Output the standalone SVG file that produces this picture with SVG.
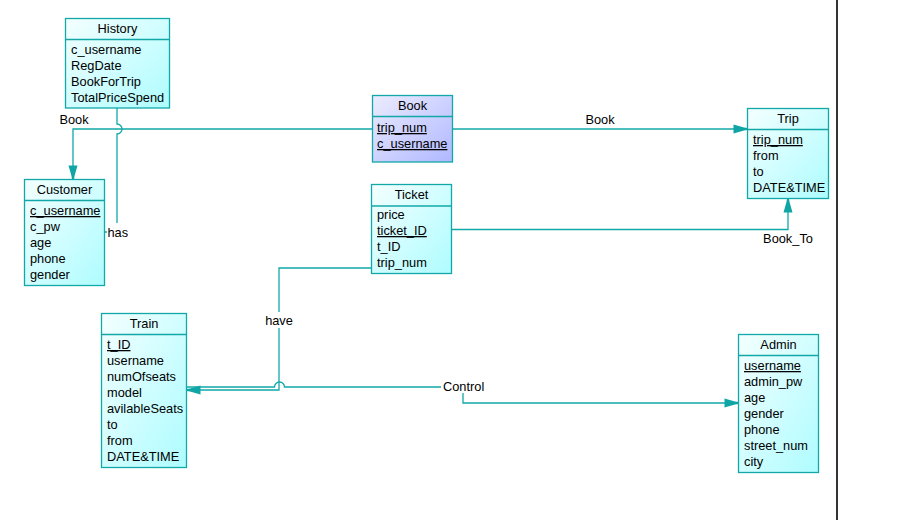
<svg xmlns="http://www.w3.org/2000/svg" width="906" height="520" viewBox="0 0 906 520">
<defs>
<linearGradient id="gc" x1="0" y1="0" x2="1" y2="1"><stop offset="0" stop-color="#f4ffff"/><stop offset="1" stop-color="#aefcff"/></linearGradient>
<linearGradient id="gb" x1="0" y1="0" x2="1" y2="1"><stop offset="0" stop-color="#ececff"/><stop offset="1" stop-color="#b0b8ff"/></linearGradient>
<marker id="arr" markerUnits="userSpaceOnUse" viewBox="-15 -6 16 12" refX="0" refY="0" markerWidth="16" markerHeight="12" orient="auto">
<path d="M-14,-4.5 L-3.5,-1.5 L0,-1 L0,1 L-3.5,1.5 L-14,4.5 Z" fill="#0fa5a5"/>
</marker>
<style>
.box{fill:url(#gc);stroke:#12a8a8;stroke-width:1.3}
.bbox{fill:url(#gb);stroke:#12a8a8;stroke-width:1.3}
.div{stroke:#12a8a8;stroke-width:1.3}
text{font-family:"Liberation Sans",Arial,sans-serif;font-size:12.8px;fill:#000}
.t{text-anchor:middle}
.pk{text-decoration:underline}
.c{fill:none;stroke:#12a8a8;stroke-width:1.3}
.lbl{text-anchor:middle}
</style>
</defs>
<rect width="906" height="520" fill="#fff"/>
<line x1="837" y1="0" x2="837" y2="520" stroke="#000" stroke-width="1.6"/>

<g id="connectors">
<path class="c" d="M372.5,129 H73 V179.5" marker-end="url(#arr)"/>
<path class="c" d="M117,108 V124 A5,5 0 0 1 117,134 V232 H104.5"/>
<path class="c" d="M452.5,129 H747.5" marker-end="url(#arr)"/>
<path class="c" d="M451.5,229.5 H788 V198.5" marker-end="url(#arr)"/>
<path class="c" d="M371.5,268 H279 V390 H186.5" marker-end="url(#arr)"/>
<path class="c" d="M186.5,387 H274.5 A5,5 0 0 1 284.5,387 H441"/>
<path class="c" d="M463,393 V403 H738.5" marker-end="url(#arr)"/>
<text x="74" y="124" class="lbl">Book</text>
<rect x="107" y="223" width="22" height="16" fill="#fff"/>
<text x="107.5" y="237">has</text>
<text x="600" y="124" class="lbl">Book</text>
<text x="788" y="243" class="lbl">Book_To</text>
<rect x="264" y="312" width="30" height="16" fill="#fff"/>
<text x="279" y="325" class="lbl">have</text>
<text x="443" y="391">Control</text>
</g>

<g id="History">
<rect class="box" x="65.5" y="18.5" width="104" height="89.5"/>
<line class="div" x1="65.5" y1="39.5" x2="169.5" y2="39.5"/>
<text class="t" x="117.5" y="33">History</text>
<text x="71" y="54">c_username</text>
<text x="71" y="70">RegDate</text>
<text x="71" y="86">BookForTrip</text>
<text x="71" y="102">TotalPriceSpend</text>
</g>

<g id="Customer">
<rect class="box" x="24.5" y="179.5" width="80" height="106"/>
<line class="div" x1="24.5" y1="200.5" x2="104.5" y2="200.5"/>
<text class="t" x="64.5" y="194">Customer</text>
<text x="30" y="215" class="pk">c_username</text>
<text x="30" y="231">c_pw</text>
<text x="30" y="247">age</text>
<text x="30" y="263">phone</text>
<text x="30" y="279">gender</text>
</g>

<g id="Book">
<rect class="bbox" x="372.5" y="95.5" width="80" height="66.5"/>
<line class="div" x1="372.5" y1="116.5" x2="452.5" y2="116.5"/>
<text class="t" x="412.5" y="110">Book</text>
<text x="377" y="132" class="pk">trip_num</text>
<text x="377" y="148" class="pk">c_username</text>
</g>

<g id="Ticket">
<rect class="box" x="371.5" y="184.5" width="80" height="89"/>
<line class="div" x1="371.5" y1="206" x2="451.5" y2="206"/>
<text class="t" x="411.5" y="199">Ticket</text>
<text x="377" y="219">price</text>
<text x="377" y="235" class="pk">ticket_ID</text>
<text x="377" y="251">t_ID</text>
<text x="377" y="267">trip_num</text>
</g>

<g id="Trip">
<rect class="box" x="747.5" y="108.5" width="81" height="90"/>
<line class="div" x1="747.5" y1="129.5" x2="828.5" y2="129.5"/>
<text class="t" x="788" y="123">Trip</text>
<text x="753" y="144" class="pk">trip_num</text>
<text x="753" y="160">from</text>
<text x="753" y="176">to</text>
<text x="753" y="192">DATE&amp;TIME</text>
</g>

<g id="Train">
<rect class="box" x="101.5" y="313.5" width="85" height="154"/>
<line class="div" x1="101.5" y1="334.5" x2="186.5" y2="334.5"/>
<text class="t" x="144" y="328">Train</text>
<text x="107" y="349" class="pk">t_ID</text>
<text x="107" y="365">username</text>
<text x="107" y="381">numOfseats</text>
<text x="107" y="397">model</text>
<text x="107" y="413">avilableSeats</text>
<text x="107" y="429">to</text>
<text x="107" y="445">from</text>
<text x="107" y="461">DATE&amp;TIME</text>
</g>

<g id="Admin">
<rect class="box" x="738.5" y="334.5" width="80" height="138"/>
<line class="div" x1="738.5" y1="355.5" x2="818.5" y2="355.5"/>
<text class="t" x="778.5" y="349">Admin</text>
<text x="744" y="370" class="pk">username</text>
<text x="744" y="386">admin_pw</text>
<text x="744" y="402">age</text>
<text x="744" y="418">gender</text>
<text x="744" y="434">phone</text>
<text x="744" y="450">street_num</text>
<text x="744" y="466">city</text>
</g>
</svg>
